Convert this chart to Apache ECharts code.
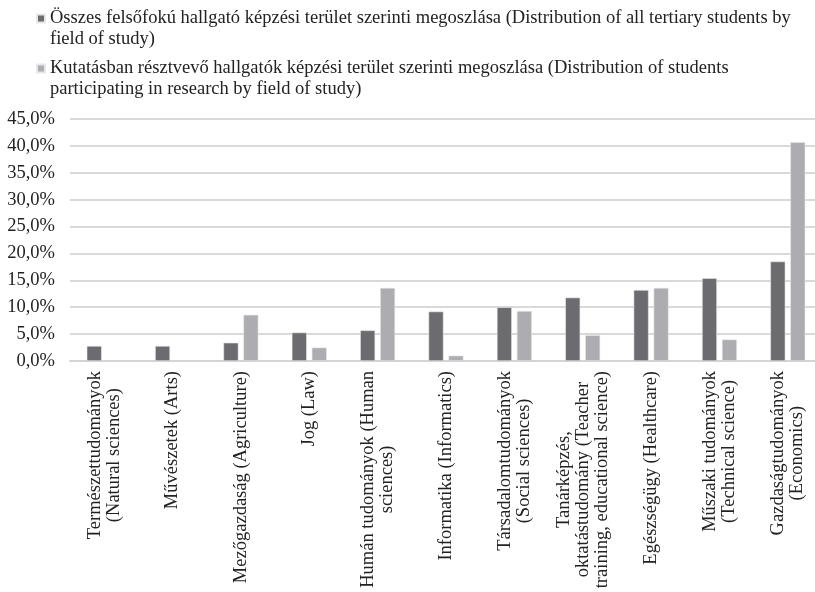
<!DOCTYPE html>
<html><head><meta charset="utf-8">
<script src="https://cdn.jsdelivr.net/npm/echarts@6/dist/echarts.min.js"></script>
<style>html,body{margin:0;padding:0;background:#fff}#c{width:815px;height:592px}</style>
</head><body><div id="c"></div>
<script>
const categories = [
  ["Természettudományok", "(Natural sciences)"],
  ["Művészetek (Arts)"],
  ["Mezőgazdaság (Agriculture)"],
  ["Jog (Law)"],
  ["Humán tudományok (Human", "sciences)"],
  ["Informatika (Informatics)"],
  ["Társadalomtudományok", "(Social sciences)"],
  ["Tanárképzés,", "oktatástudomány (Teacher", "training, educational science)"],
  ["Egészségügy (Healthcare)"],
  ["Műszaki tudományok", "(Technical science)"],
  ["Gazdaságtudományok", "(Economics)"]
];
const seriesNames = [
  "Összes felsőfokú hallgató képzési terület szerinti megoszlása (Distribution of all tertiary students by field of study)",
  "Kutatásban résztvevő hallgatók képzési terület szerinti megoszlása (Distribution of students participating in research by field of study)"
];
const allStudents = [2.8, 2.8, 3.4, 5.3, 5.7, 9.2, 10.0, 11.8, 13.2, 15.4, 18.5];
const researchStudents = [null, null, 8.6, 2.5, 13.6, 1.0, 9.3, 4.8, 13.6, 4.0, 40.7];
const yTicks = {min: 0, max: 45, interval: 5};

const FONT = "Liberation Serif";
const FS = 18.5;

// word-wrap a string to a pixel width using canvas text measurement
const measureCtx = document.createElement('canvas').getContext('2d');
function wrap(text, maxW) {
  measureCtx.font = FS + 'px "' + FONT + '"';
  const words = text.split(' ');
  const lines = [];
  let cur = '';
  for (const w of words) {
    const t = cur ? cur + ' ' + w : w;
    if (cur && measureCtx.measureText(t).width > maxW) { lines.push(cur); cur = w; }
    else cur = t;
  }
  if (cur) lines.push(cur);
  return lines.join('\n');
}

// square legend marker placed at the top of a tall icon box so it sits beside the first text line
const topSquare = 'path://M0,29M0,0L8,0L8,8L0,8Z';
const chart = echarts.init(document.getElementById('c'), null, {renderer: 'canvas'});
chart.setOption({
  animation: false,
  textStyle: {fontFamily: FONT},
  legend: {
    orient: 'vertical', left: 36, top: 8, itemGap: 8, padding: 0,
    itemWidth: 8, itemHeight: 29, icon: topSquare, symbolKeepAspect: false,
    formatter: name => wrap(name, 765),
    textStyle: {fontFamily: FONT, fontSize: FS, color: '#222', lineHeight: 21},
    data: seriesNames
  },
  grid: {left: 70, width: 752, top: 119, bottom: 231, containLabel: false, outerBoundsMode: 'none'},
  xAxis: {
    type: 'category',
    data: categories.map(c => c.join('\n')),
    axisLine: {lineStyle: {color: '#d4d4d4', width: 2}},
    axisTick: {show: false},
    axisLabel: {
      rotate: 90, interval: 0, margin: 10, fontFamily: FONT, fontSize: FS, color: '#222',
      formatter: v => v.split('\n').map(l => '{c|' + l + '}').join('\n'),
      rich: {c: {align: 'center', fontFamily: FONT, fontSize: FS, color: '#222', lineHeight: 19}}
    }
  },
  yAxis: {
    type: 'value', min: yTicks.min, max: yTicks.max, interval: yTicks.interval,
    axisLine: {show: false}, axisTick: {show: false},
    splitLine: {lineStyle: {color: '#d9d9d9', width: 2}},
    axisLabel: {
      margin: 15, fontFamily: FONT, fontSize: FS, color: '#222',
      formatter: v => v.toFixed(1).replace('.', ',') + '%'
    }
  },
  series: [
    {name: seriesNames[0], type: 'bar', data: allStudents, barWidth: 15, barGap: '33%',
     itemStyle: {color: '#6b6b70', borderColor: '#e8e8e8', borderWidth: 0.6}},
    {name: seriesNames[1], type: 'bar', data: researchStudents, barWidth: 15,
     itemStyle: {color: '#adadb1', borderColor: '#e8e8e8', borderWidth: 0.6}}
  ]
});
</script></body></html>
